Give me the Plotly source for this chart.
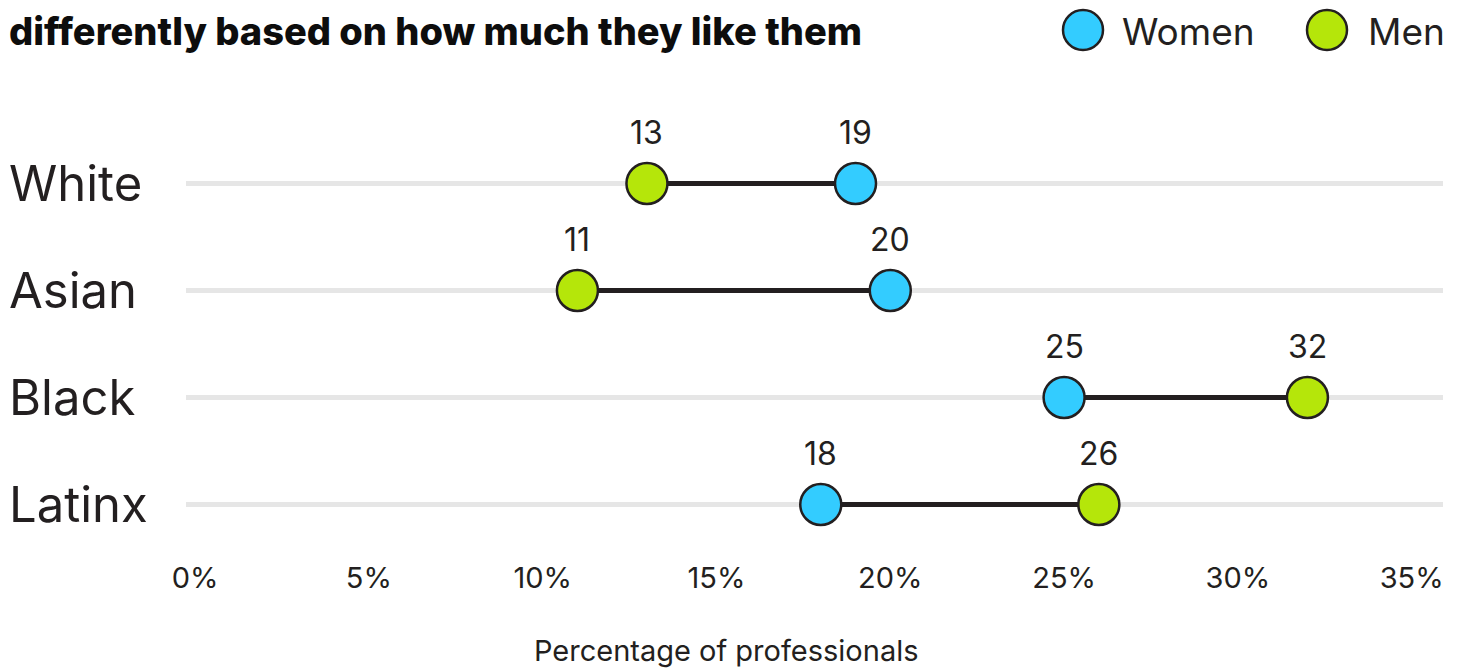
import plotly.graph_objects as go

# ---- data ----
categories = ["White", "Asian", "Black", "Latinx"]
women = [19, 20, 25, 18]
men = [13, 11, 32, 26]
x_ticks = [0, 5, 10, 15, 20, 25, 30, 35]
x_tick_labels = ["0%", "5%", "10%", "15%", "20%", "25%", "30%", "35%"]
title_text = "differently based on how much they like them"
x_title = "Percentage of professionals"
legend_names = ["Women", "Men"]

# ---- style ----
OFF = 8  # page body margin
W, H = 1466 - OFF, 668 - OFF
# target plot area in page pixels: x 186..1443, y 129.5..557.5
ML = 186 - OFF
MR = W - (1443 - OFF)
MT = 130 - OFF
MB = H - (558 - OFF)
PW, PH = W - ML - MR, H - MT - MB
BLUE = "#33CCFF"
GREEN = "#B5E60A"
DARK = "#231F20"
FONT = "Inter, Roboto, sans-serif"


def px_x(p):
    return (p - OFF - ML) / PW


def px_y(p):
    return (H - MB - (p - OFF)) / PH


fig = go.Figure()

# connectors
cx, cy = [], []
for c, w, m in zip(categories, women, men):
    cx += [w, m, None]
    cy += [c, c, None]
fig.add_trace(go.Scatter(x=cx, y=cy, mode="lines",
                         line=dict(color=DARK, width=5),
                         showlegend=False, hoverinfo="skip"))

fig.add_trace(go.Scatter(x=women, y=categories, mode="markers", name=legend_names[0],
                         marker=dict(size=41, color=BLUE, line=dict(color=DARK, width=2.5)),
                         showlegend=False))
fig.add_trace(go.Scatter(x=men, y=categories, mode="markers", name=legend_names[1],
                         marker=dict(size=41, color=GREEN, line=dict(color=DARK, width=2.5)),
                         showlegend=False))

annotations = []
# value labels
for c, w, m in zip(categories, women, men):
    for v in (w, m):
        annotations.append(dict(x=v, y=c, xref="x", yref="y", text=str(v),
                                showarrow=False, yshift=51,
                                font=dict(family=FONT, size=32, color=DARK)))
# category labels, left-aligned
for c in categories:
    annotations.append(dict(x=px_x(8), y=c, xref="paper", yref="y", text=c,
                            showarrow=False, xanchor="left", yanchor="middle",
                            borderpad=0,
                            font=dict(family=FONT, size=49, color=DARK)))
# title (visible line)
annotations.append(dict(x=px_x(8), y=px_y(31), xref="paper", yref="paper",
                        text=title_text, showarrow=False, xanchor="left", yanchor="middle",
                        borderpad=0,
                        font=dict(family=FONT, size=38, color="#0d0d0d", weight=800)))
# x axis title
annotations.append(dict(x=px_x(726), y=px_y(650), xref="paper", yref="paper",
                        text=x_title, showarrow=False, xanchor="center", yanchor="middle",
                        font=dict(family=FONT, size=29, color=DARK)))

# manual legend
shapes = []
leg = [(1083, BLUE, legend_names[0], 1121), (1327, GREEN, legend_names[1], 1367)]
for cxp, col, name, tx in leg:
    shapes.append(dict(type="circle", xref="paper", yref="paper",
                       xsizemode="pixel", ysizemode="pixel",
                       xanchor=px_x(cxp), yanchor=px_y(30),
                       x0=-20, x1=20, y0=-20, y1=20,
                       fillcolor=col, line=dict(color=DARK, width=2.5)))
    annotations.append(dict(x=px_x(tx), y=px_y(31), xref="paper", yref="paper",
                            text=name, showarrow=False, xanchor="left", yanchor="middle",
                            borderpad=0,
                            font=dict(family=FONT, size=37, color=DARK)))

fig.update_layout(
    width=W, height=H,
    margin=dict(l=ML, r=MR, t=MT, b=MB, autoexpand=False),
    paper_bgcolor="white", plot_bgcolor="white",
    annotations=annotations, shapes=shapes,
    showlegend=False,
)
fig.update_xaxes(range=[-0.26, 35.9], tickvals=x_ticks, ticktext=x_tick_labels,
                 showgrid=False, zeroline=False, showline=False, automargin=False,
                 ticks="",
                 tickfont=dict(family=FONT, size=29, color=DARK))
fig.update_yaxes(categoryorder="array", categoryarray=categories,
                 range=[3.5, -0.5], showticklabels=False, automargin=False,
                 showgrid=True, gridcolor="#E6E6E6", gridwidth=5,
                 zeroline=False, showline=False)

fig.write_html("out.html")
